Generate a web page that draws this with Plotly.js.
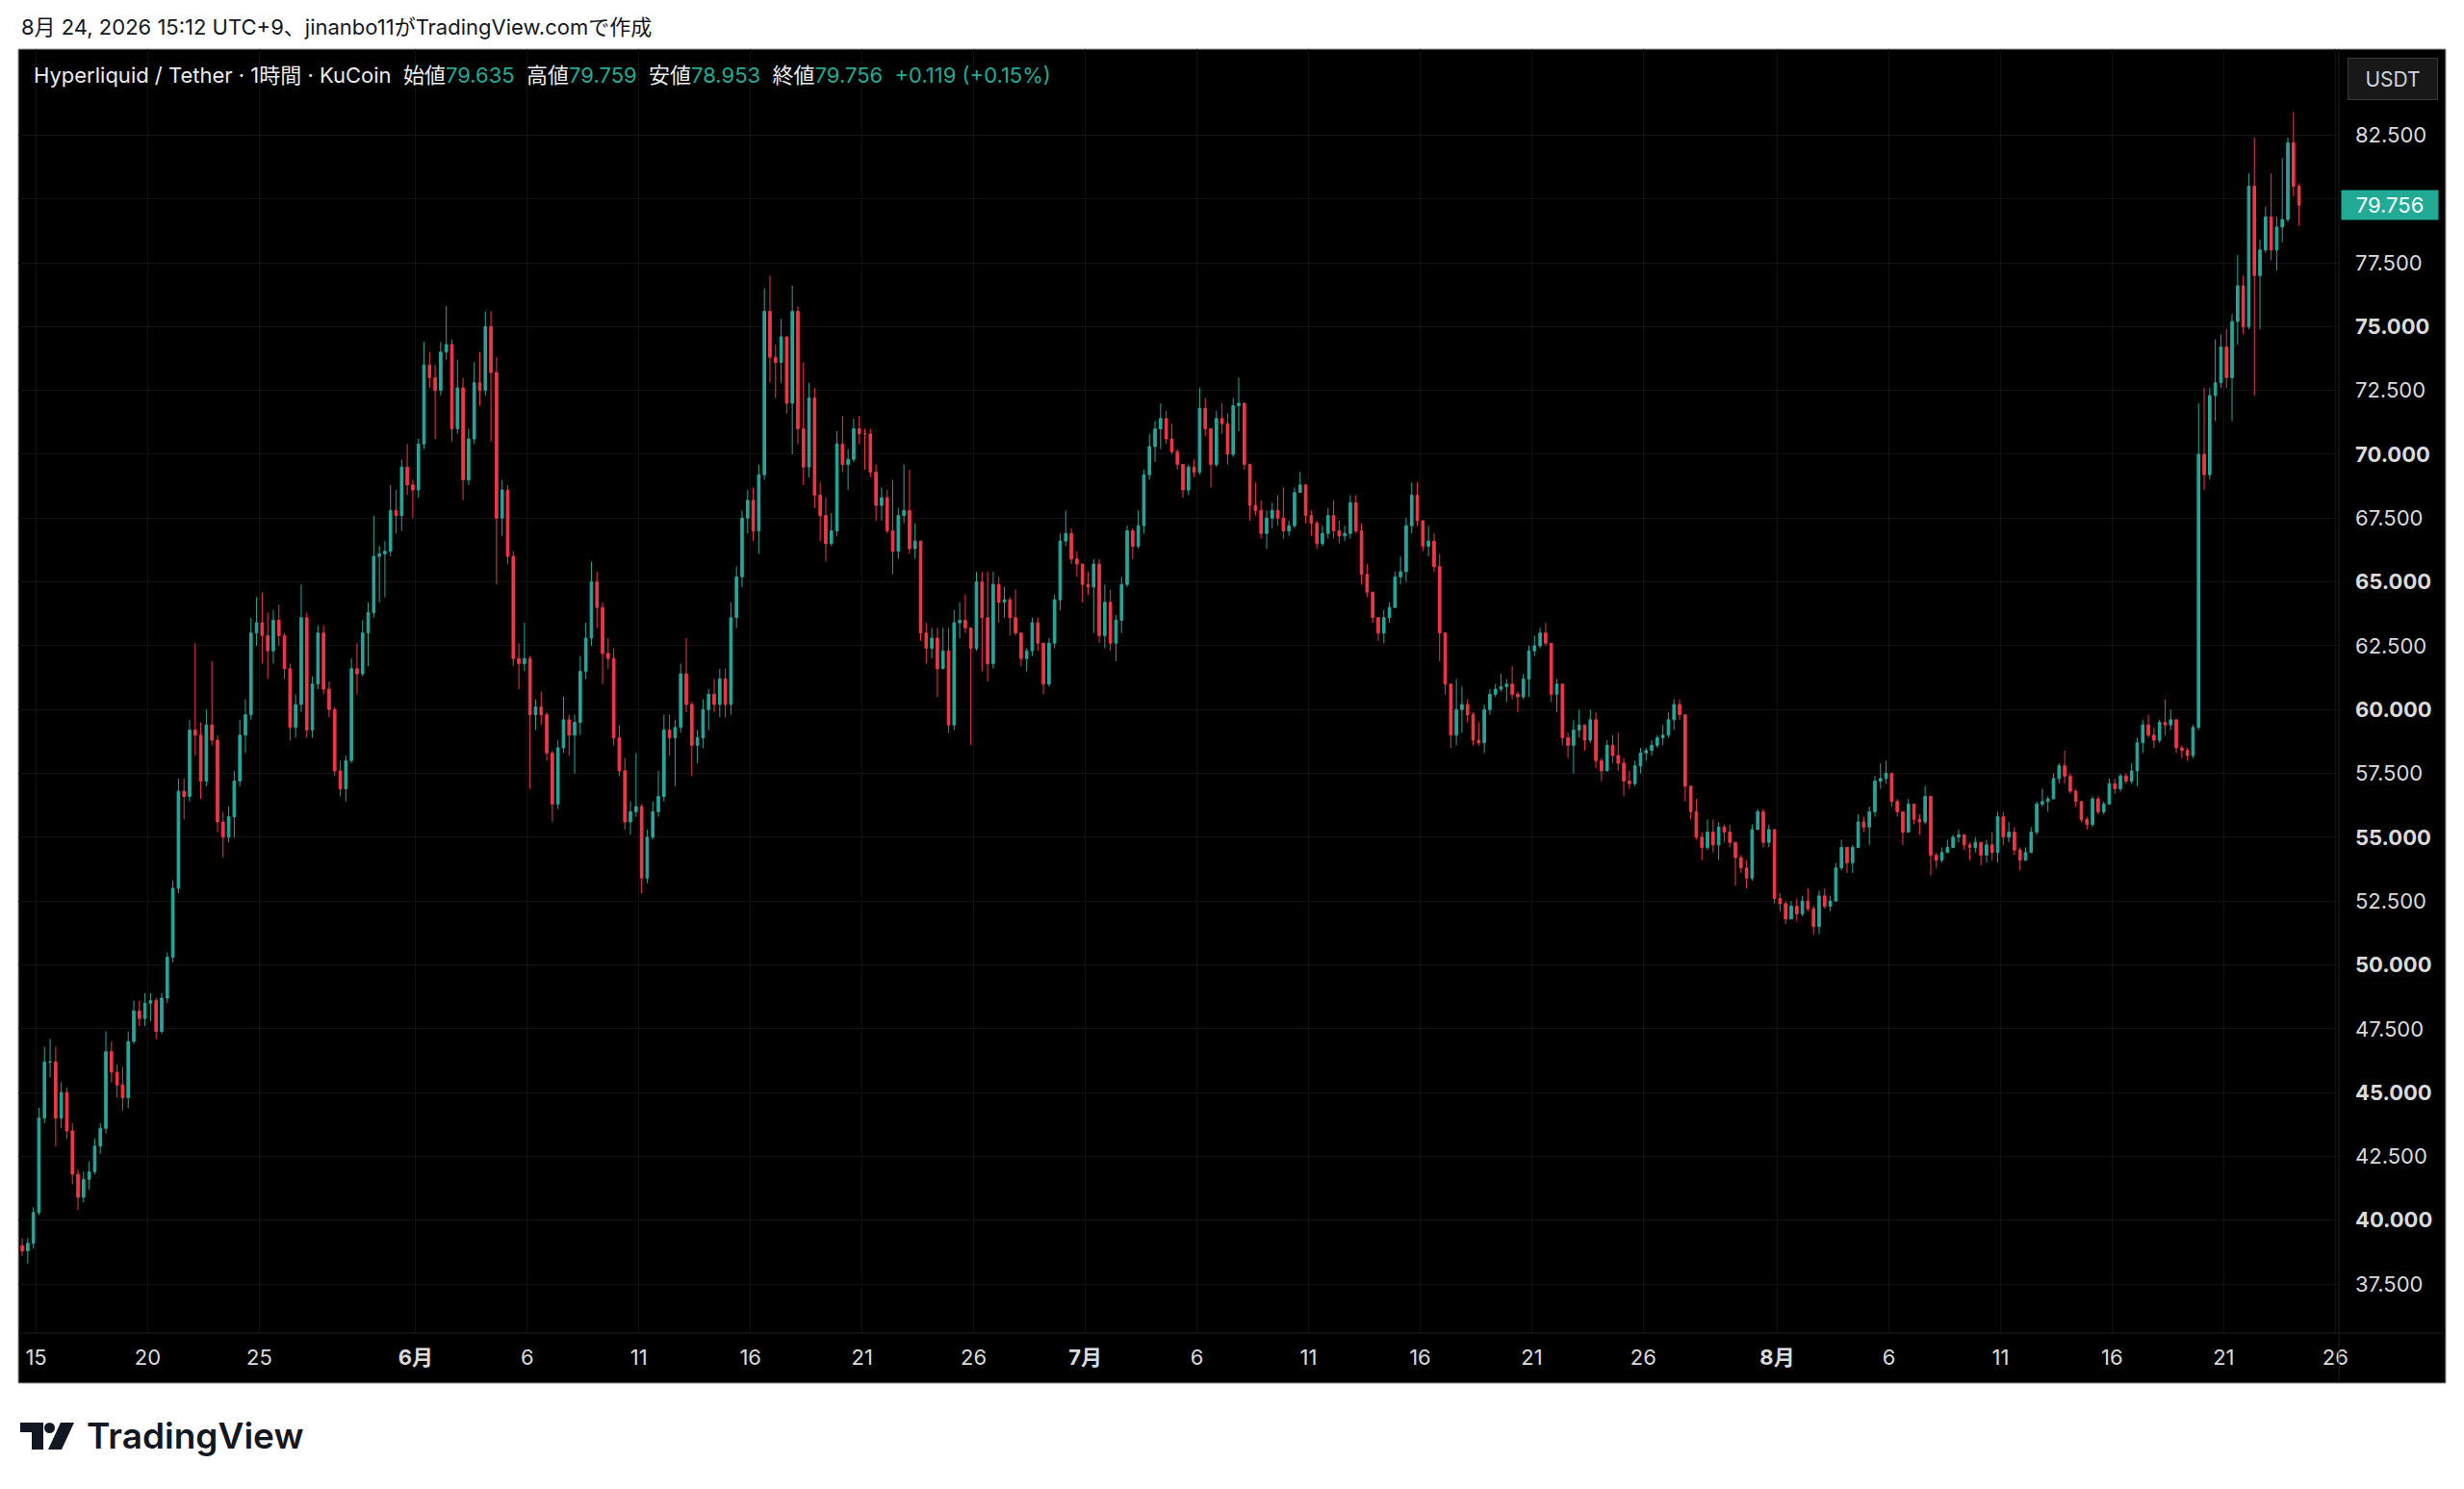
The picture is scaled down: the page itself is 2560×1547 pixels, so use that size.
<!DOCTYPE html>
<html>
<head>
<meta charset="utf-8">
<script src="https://cdn.plot.ly/plotly-3.0.1.min.js"></script>
<style>
  html, body { margin: 0; padding: 0; background: #ffffff; overflow: hidden; }
  #chart { width: 2560px; height: 1547px; }
</style>
</head>
<body>
<div id="chart"></div>
<script>
// HYPE/USDT, 6-hour candles (first bar starts 2026-05-14 06:00)
const firstBarStart = Date.UTC(2026, 4, 14, 6);
const barHours = 6;

const openP = [
  39.0, 38.8, 39.1, 40.3, 44.0, 46.2, 46.2, 44.0, 45.0, 43.5,
  41.8, 40.9, 41.6, 41.9, 42.9, 43.6, 46.6, 45.8, 45.3, 44.8,
  47.0, 48.2, 47.9, 48.5, 48.6, 47.4, 48.7, 50.3, 53.0, 56.8,
  56.6, 59.2, 59.0, 57.2, 59.4, 58.8, 55.6, 55.0, 55.8, 57.2,
  59.0, 59.8, 63.0, 63.4, 62.9, 62.3, 63.5, 62.9, 61.6, 59.3,
  60.2, 63.6, 59.2, 61.0, 63.0, 60.8, 60.0, 57.6, 56.9, 58.0,
  61.6, 61.4, 63.0, 63.8, 66.0, 66.1, 66.2, 67.8, 67.6, 69.5,
  68.8, 68.6, 70.4, 73.5, 73.0, 72.5, 74.0, 74.3, 71.0, 72.6,
  69.0, 70.6, 72.8, 72.5, 75.0, 73.2, 67.5, 68.6, 66.0, 62.0,
  61.8, 62.0, 59.8, 60.1, 59.8, 58.3, 56.3, 58.5, 59.6, 59.0,
  59.5, 61.5, 62.8, 65.0, 64.0, 62.2, 62.0, 58.9, 57.6, 55.6,
  56.0, 56.2, 53.4, 55.0, 56.0, 56.6, 59.2, 58.9, 59.3, 61.4,
  60.2, 58.6, 58.9, 60.0, 60.6, 60.2, 61.2, 60.2, 63.6, 65.2,
  67.5, 68.2, 67.0, 69.2, 75.6, 73.8, 73.6, 74.6, 72.0, 75.6,
  71.0, 69.5, 72.2, 68.4, 67.6, 66.5, 67.0, 70.4, 69.6, 69.8,
  71.0, 70.8, 70.8, 69.3, 68.0, 68.3, 67.0, 66.2, 67.6, 67.8,
  66.3, 66.6, 63.0, 62.4, 62.8, 61.6, 62.3, 59.4, 63.4, 63.5,
  63.2, 62.4, 65.0, 63.6, 61.8, 64.9, 64.2, 64.3, 63.6, 63.0,
  62.0, 62.3, 63.4, 62.6, 61.0, 62.6, 64.3, 66.6, 66.9, 65.9,
  65.7, 64.9, 64.8, 65.7, 62.9, 64.2, 62.6, 63.5, 64.9, 67.0,
  66.4, 67.2, 69.2, 70.3, 71.0, 71.4, 70.6, 70.1, 69.6, 68.6,
  69.5, 69.3, 71.8, 71.0, 69.6, 71.4, 71.2, 70.0, 71.9, 72.0,
  69.6, 68.0, 67.8, 66.9, 67.5, 67.8, 67.5, 67.0, 67.2, 68.5,
  68.8, 67.6, 67.3, 66.5, 66.9, 67.6, 67.0, 66.8, 66.9, 68.1,
  67.0, 65.3, 64.6, 63.6, 63.0, 63.6, 64.0, 65.2, 65.4, 67.2,
  68.4, 67.4, 66.4, 66.6, 65.6, 63.0, 61.0, 59.0, 60.0, 60.2,
  59.8, 58.8, 58.7, 60.0, 60.6, 60.8, 60.9, 61.0, 60.6, 60.5,
  61.2, 62.3, 62.5, 63.0, 62.6, 60.6, 61.0, 58.9, 58.6, 59.2,
  59.4, 58.8, 59.6, 58.0, 57.6, 58.6, 58.2, 57.9, 57.2, 57.1,
  57.8, 58.3, 58.4, 58.6, 58.9, 59.0, 59.6, 60.2, 59.8, 57.0,
  56.0, 55.0, 54.6, 55.2, 54.7, 55.4, 55.2, 54.8, 54.2, 53.8,
  53.4, 55.3, 56.0, 54.8, 55.3, 52.6, 52.4, 51.8, 52.3, 52.0,
  52.5, 52.2, 51.5, 52.7, 52.3, 52.5, 53.8, 54.6, 54.0, 54.6,
  55.6, 55.4, 56.0, 57.2, 57.3, 57.5, 56.4, 56.0, 55.2, 56.3,
  55.7, 55.6, 56.6, 54.3, 54.1, 54.4, 54.6, 55.0, 55.1, 54.7,
  54.6, 54.8, 54.3, 54.7, 54.4, 55.8, 55.0, 55.2, 54.5, 54.1,
  54.4, 55.2, 56.3, 56.4, 56.5, 57.3, 57.8, 57.4, 56.8, 56.4,
  55.7, 55.5, 56.5, 56.0, 56.3, 57.1, 56.9, 57.4, 57.2, 57.6,
  58.7, 59.4, 59.0, 58.8, 59.5, 59.4, 59.6, 58.5, 58.4, 58.2,
  59.3, 70.0, 69.2, 72.3, 72.8, 74.2, 73.0, 75.2, 76.6, 75.0,
  80.5, 77.0, 78.0, 79.3, 78.0, 78.9, 79.2, 82.2, 80.5
];

const highP = [
  39.3, 39.3, 40.5, 44.4, 46.8, 47.1, 46.8, 45.4, 45.2, 43.8,
  42.0, 41.9, 42.3, 43.2, 43.8, 47.4, 47.0, 46.1, 46.0, 47.4,
  48.6, 48.6, 48.9, 48.9, 48.7, 48.9, 50.5, 53.3, 57.3, 57.3,
  59.6, 62.6, 59.5, 60.0, 61.9, 59.0, 56.0, 56.2, 57.6, 59.6,
  60.4, 63.6, 64.4, 64.6, 63.8, 63.9, 64.1, 63.0, 61.8, 60.6,
  64.9, 63.8, 61.3, 63.3, 63.3, 61.1, 60.1, 58.0, 58.2, 62.0,
  62.6, 63.5, 64.2, 67.6, 66.4, 66.6, 68.8, 68.6, 69.8, 70.4,
  69.0, 70.6, 74.4, 74.0, 73.5, 74.4, 75.8, 74.5, 73.7, 73.0,
  71.0, 73.6, 74.0, 75.6, 75.6, 73.8, 69.0, 68.8, 66.2, 62.6,
  63.4, 62.1, 60.4, 60.7, 59.9, 58.4, 58.8, 60.5, 59.8, 59.8,
  62.1, 63.4, 65.8, 65.4, 64.2, 62.8, 62.4, 59.4, 58.1, 56.4,
  58.3, 56.3, 55.3, 56.4, 57.6, 59.8, 59.8, 59.6, 61.8, 62.8,
  60.3, 59.2, 60.4, 60.8, 61.2, 61.6, 61.6, 64.2, 65.6, 67.8,
  68.6, 68.7, 69.6, 76.5, 77.0, 74.3, 75.3, 74.6, 76.6, 75.8,
  73.6, 72.8, 72.6, 68.9, 68.3, 67.7, 70.9, 71.5, 70.2, 71.4,
  71.5, 71.0, 71.0, 69.6, 68.7, 68.6, 69.0, 67.9, 69.6, 69.4,
  67.3, 66.6, 63.4, 63.2, 63.2, 63.2, 63.2, 63.9, 64.2, 64.5,
  63.2, 65.4, 65.4, 65.4, 65.4, 65.2, 64.8, 64.4, 64.7, 63.0,
  62.4, 63.6, 63.6, 62.6, 62.8, 64.5, 66.9, 67.8, 67.1, 66.2,
  65.7, 65.4, 65.9, 65.9, 64.9, 64.7, 63.7, 65.2, 67.2, 67.1,
  67.8, 69.4, 70.8, 71.3, 72.0, 71.7, 71.2, 70.2, 69.6, 69.6,
  69.8, 72.6, 72.2, 71.0, 71.7, 72.0, 71.6, 72.2, 73.0, 72.0,
  69.6, 68.9, 68.2, 67.8, 68.1, 68.4, 68.7, 67.4, 68.7, 69.3,
  68.8, 67.8, 67.4, 67.2, 67.9, 68.2, 67.4, 67.2, 68.4, 68.4,
  67.3, 65.7, 64.6, 63.6, 63.9, 64.2, 65.4, 66.0, 67.5, 68.9,
  68.9, 67.4, 67.2, 66.9, 66.1, 63.0, 61.0, 61.2, 60.9, 60.4,
  59.9, 59.5, 60.2, 60.8, 61.0, 61.4, 61.2, 61.7, 60.7, 61.4,
  62.5, 62.9, 63.2, 63.4, 62.6, 61.2, 61.0, 59.1, 59.6, 60.0,
  59.4, 60.0, 59.9, 58.1, 58.8, 59.0, 59.1, 58.1, 57.6, 58.0,
  58.5, 58.5, 58.8, 59.0, 59.4, 59.9, 60.4, 60.4, 59.8, 57.0,
  56.5, 55.2, 55.7, 55.7, 55.6, 55.5, 55.5, 54.8, 54.3, 54.1,
  55.5, 56.1, 56.1, 55.5, 55.3, 52.8, 52.5, 52.5, 52.6, 52.7,
  53.0, 52.3, 52.9, 53.0, 52.7, 54.0, 54.9, 54.6, 54.7, 55.9,
  55.8, 56.2, 57.4, 57.9, 58.0, 57.5, 56.5, 56.0, 56.5, 56.3,
  55.9, 57.0, 56.6, 54.4, 54.6, 54.9, 55.1, 55.3, 55.1, 54.8,
  55.0, 54.8, 54.9, 55.2, 56.0, 56.0, 55.6, 55.4, 54.6, 54.6,
  55.4, 56.4, 56.9, 56.6, 57.5, 57.9, 58.4, 57.5, 56.9, 56.4,
  55.8, 56.6, 56.6, 56.4, 57.3, 57.3, 57.5, 57.5, 57.9, 58.9,
  59.6, 59.8, 59.3, 59.6, 60.4, 60.0, 59.6, 58.6, 58.5, 59.4,
  72.0, 72.6, 72.6, 74.5, 74.7, 74.9, 75.5, 77.8, 77.0, 81.0,
  82.4, 78.4, 79.7, 81.0, 79.3, 81.6, 82.4, 83.4, 80.6
];

const lowP = [
  38.6, 38.3, 38.9, 40.2, 43.8, 45.6, 42.9, 43.6, 43.2, 41.4,
  40.4, 40.7, 41.2, 41.8, 42.6, 43.4, 45.4, 44.8, 44.3, 44.4,
  46.9, 47.6, 47.6, 47.8, 47.1, 47.3, 48.5, 50.1, 52.8, 55.7,
  56.4, 58.2, 56.5, 57.0, 58.6, 55.2, 54.2, 54.8, 55.0, 57.0,
  58.3, 59.6, 62.5, 61.8, 61.2, 61.8, 62.5, 61.2, 58.8, 58.9,
  59.9, 58.9, 58.9, 60.8, 60.6, 59.7, 57.4, 56.6, 56.4, 57.9,
  60.6, 61.3, 61.7, 63.6, 64.2, 64.4, 66.0, 66.9, 67.0, 68.4,
  67.5, 68.3, 70.2, 72.6, 70.6, 72.3, 73.7, 70.5, 70.8, 68.2,
  68.8, 70.4, 71.9, 72.3, 70.5, 64.9, 66.8, 65.7, 61.7, 60.8,
  61.5, 56.9, 59.2, 59.4, 58.0, 55.6, 56.1, 58.3, 58.2, 57.5,
  59.0, 61.2, 62.5, 63.2, 61.0, 61.6, 58.6, 57.4, 55.3, 55.1,
  55.8, 52.8, 53.2, 54.9, 55.8, 56.4, 58.2, 57.0, 59.1, 59.9,
  57.4, 57.9, 58.5, 59.2, 59.9, 59.7, 59.7, 59.8, 63.2, 64.8,
  66.9, 66.6, 66.1, 69.0, 72.8, 72.2, 72.8, 71.6, 70.0, 70.4,
  68.8, 69.1, 67.9, 66.6, 65.8, 66.4, 66.8, 69.3, 68.6, 69.7,
  70.4, 69.4, 69.1, 67.4, 67.4, 66.9, 65.3, 65.9, 67.3, 66.1,
  65.9, 62.7, 61.8, 62.0, 60.5, 61.6, 59.1, 59.2, 62.8, 63.0,
  58.6, 62.3, 61.5, 61.1, 61.6, 63.4, 63.6, 62.9, 62.9, 61.7,
  61.5, 62.1, 62.3, 60.6, 60.9, 62.4, 63.9, 66.4, 65.7, 65.2,
  64.2, 64.5, 63.0, 62.6, 62.4, 62.3, 61.9, 63.0, 64.8, 65.9,
  66.3, 66.9, 69.0, 69.7, 70.2, 70.4, 70.0, 69.4, 68.3, 68.4,
  69.1, 69.2, 70.7, 68.7, 69.5, 70.8, 69.6, 69.9, 70.9, 69.4,
  67.4, 67.6, 66.7, 66.3, 67.1, 67.2, 66.7, 66.8, 67.1, 68.5,
  67.3, 66.8, 66.3, 66.4, 66.7, 66.7, 66.5, 66.6, 66.7, 66.9,
  64.9, 64.4, 63.4, 62.7, 62.6, 63.4, 64.0, 64.9, 65.0, 66.9,
  67.2, 66.2, 66.0, 65.4, 61.9, 60.6, 58.5, 58.6, 59.1, 59.5,
  58.6, 58.6, 58.3, 59.8, 60.5, 60.7, 60.3, 60.4, 59.9, 60.4,
  60.5, 62.1, 62.4, 62.5, 60.3, 59.9, 58.6, 58.1, 57.5, 58.9,
  58.4, 58.7, 57.7, 57.2, 57.6, 57.9, 57.6, 56.6, 56.9, 57.0,
  57.5, 58.0, 58.2, 58.5, 58.6, 58.9, 59.2, 59.6, 56.4, 55.7,
  54.9, 54.1, 54.5, 54.4, 54.1, 54.8, 54.6, 53.1, 53.6, 53.0,
  53.3, 55.3, 54.6, 54.6, 52.4, 52.1, 51.6, 51.8, 51.7, 51.9,
  52.1, 51.2, 51.2, 52.2, 52.1, 52.5, 53.7, 53.6, 53.6, 54.6,
  55.2, 54.7, 55.8, 56.9, 57.1, 56.2, 55.8, 54.7, 55.2, 55.5,
  55.1, 55.5, 53.5, 53.8, 54.0, 54.4, 54.6, 54.8, 54.5, 54.1,
  54.4, 53.9, 54.0, 54.1, 54.0, 54.7, 54.8, 54.3, 53.7, 54.1,
  54.4, 55.1, 56.2, 56.0, 56.5, 57.1, 57.1, 56.7, 56.2, 55.6,
  55.3, 55.4, 55.9, 55.9, 56.3, 56.7, 56.8, 57.1, 57.1, 57.0,
  58.3, 58.9, 58.5, 58.7, 59.0, 59.2, 58.3, 58.1, 58.0, 58.1,
  59.2, 68.6, 69.0, 71.3, 72.6, 72.6, 71.3, 74.3, 74.7, 74.9,
  72.3, 74.9, 77.9, 77.6, 77.2, 78.3, 79.1, 80.1, 78.953
];

const closeP = [
  38.8, 39.1, 40.3, 44.0, 46.2, 46.2, 44.0, 45.0, 43.5, 41.8,
  40.9, 41.6, 41.9, 42.9, 43.6, 46.6, 45.8, 45.3, 44.8, 47.0,
  48.2, 47.9, 48.5, 48.6, 47.4, 48.7, 50.3, 53.0, 56.8, 56.6,
  59.2, 59.0, 57.2, 59.4, 58.8, 55.6, 55.0, 55.8, 57.2, 59.0,
  59.8, 63.0, 63.4, 62.9, 62.3, 63.5, 62.9, 61.6, 59.3, 60.2,
  63.6, 59.2, 61.0, 63.0, 60.8, 60.0, 57.6, 56.9, 58.0, 61.6,
  61.4, 63.0, 63.8, 66.0, 66.1, 66.2, 67.8, 67.6, 69.5, 68.8,
  68.6, 70.4, 73.5, 73.0, 72.5, 74.0, 74.3, 71.0, 72.6, 69.0,
  70.6, 72.8, 72.5, 75.0, 73.2, 67.5, 68.6, 66.0, 62.0, 61.8,
  62.0, 59.8, 60.1, 59.8, 58.3, 56.3, 58.5, 59.6, 59.0, 59.5,
  61.5, 62.8, 65.0, 64.0, 62.2, 62.0, 58.9, 57.6, 55.6, 56.0,
  56.2, 53.4, 55.0, 56.0, 56.6, 59.2, 58.9, 59.3, 61.4, 60.2,
  58.6, 58.9, 60.0, 60.6, 60.2, 61.2, 60.2, 63.6, 65.2, 67.5,
  68.2, 67.0, 69.2, 75.6, 73.8, 73.6, 74.6, 72.0, 75.6, 71.0,
  69.5, 72.2, 68.4, 67.6, 66.5, 67.0, 70.4, 69.6, 69.8, 71.0,
  70.8, 70.8, 69.3, 68.0, 68.3, 67.0, 66.2, 67.6, 67.8, 66.3,
  66.6, 63.0, 62.4, 62.8, 61.6, 62.3, 59.4, 63.4, 63.5, 63.2,
  62.4, 65.0, 63.6, 61.8, 64.9, 64.2, 64.3, 63.6, 63.0, 62.0,
  62.3, 63.4, 62.6, 61.0, 62.6, 64.3, 66.6, 66.9, 65.9, 65.7,
  64.9, 64.8, 65.7, 62.9, 64.2, 62.6, 63.5, 64.9, 67.0, 66.4,
  67.2, 69.2, 70.3, 71.0, 71.4, 70.6, 70.1, 69.6, 68.6, 69.5,
  69.3, 71.8, 71.0, 69.6, 71.4, 71.2, 70.0, 71.9, 72.0, 69.6,
  68.0, 67.8, 66.9, 67.5, 67.8, 67.5, 67.0, 67.2, 68.5, 68.8,
  67.6, 67.3, 66.5, 66.9, 67.6, 67.0, 66.8, 66.9, 68.1, 67.0,
  65.3, 64.6, 63.6, 63.0, 63.6, 64.0, 65.2, 65.4, 67.2, 68.4,
  67.4, 66.4, 66.6, 65.6, 63.0, 61.0, 59.0, 60.0, 60.2, 59.8,
  58.8, 58.7, 60.0, 60.6, 60.8, 60.9, 61.0, 60.6, 60.5, 61.2,
  62.3, 62.5, 63.0, 62.6, 60.6, 61.0, 58.9, 58.6, 59.2, 59.4,
  58.8, 59.6, 58.0, 57.6, 58.6, 58.2, 57.9, 57.2, 57.1, 57.8,
  58.3, 58.4, 58.6, 58.9, 59.0, 59.6, 60.2, 59.8, 57.0, 56.0,
  55.0, 54.6, 55.2, 54.7, 55.4, 55.2, 54.8, 54.2, 53.8, 53.4,
  55.3, 56.0, 54.8, 55.3, 52.6, 52.4, 51.8, 52.3, 52.0, 52.5,
  52.2, 51.5, 52.7, 52.3, 52.5, 53.8, 54.6, 54.0, 54.6, 55.6,
  55.4, 56.0, 57.2, 57.3, 57.5, 56.4, 56.0, 55.2, 56.3, 55.7,
  55.6, 56.6, 54.3, 54.1, 54.4, 54.6, 55.0, 55.1, 54.7, 54.6,
  54.8, 54.3, 54.7, 54.4, 55.8, 55.0, 55.2, 54.5, 54.1, 54.4,
  55.2, 56.3, 56.4, 56.5, 57.3, 57.8, 57.4, 56.8, 56.4, 55.7,
  55.5, 56.5, 56.0, 56.3, 57.1, 56.9, 57.4, 57.2, 57.6, 58.7,
  59.4, 59.0, 58.8, 59.5, 59.4, 59.6, 58.5, 58.4, 58.2, 59.3,
  70.0, 69.2, 72.3, 72.8, 74.2, 73.0, 75.2, 76.6, 75.0, 80.5,
  77.0, 78.0, 79.3, 78.0, 78.9, 79.2, 82.2, 80.5, 79.756
];

const lastPrice = 79.756;

const priceTicks = [37.5, 40, 42.5, 45, 47.5, 50, 52.5, 55, 57.5, 60, 62.5, 65, 67.5, 70, 72.5, 75, 77.5, 80, 82.5];
const priceTickText = ['37.500', '<b>40.000</b>', '42.500', '<b>45.000</b>', '47.500', '<b>50.000</b>',
  '52.500', '<b>55.000</b>', '57.500', '<b>60.000</b>', '62.500', '<b>65.000</b>', '67.500',
  '<b>70.000</b>', '72.500', '<b>75.000</b>', '77.500', '', '82.500'];

const dateTicks = ['2026-05-15', '2026-05-20', '2026-05-25', '2026-06-01', '2026-06-06', '2026-06-11',
  '2026-06-16', '2026-06-21', '2026-06-26', '2026-07-01', '2026-07-06', '2026-07-11', '2026-07-16',
  '2026-07-21', '2026-07-26', '2026-08-01', '2026-08-06', '2026-08-11', '2026-08-16', '2026-08-21', '2026-08-26'];
const dateTickText = ['15', '20', '25', '<b>6月</b>', '6', '11', '16', '21', '26', '<b>7月</b>', '6', '11',
  '16', '21', '26', '<b>8月</b>', '6', '11', '16', '21', '26'];

const UP = '#26a69a';
const DOWN = '#f23645';
const FONT = 'Inter, Roboto, "Noto Sans CJK JP", sans-serif';

// bar centres
let times = [];
for (let i = 0; i < closeP.length; i++) {
  let t = new Date(firstBarStart + (i + 0.5) * barHours * 3600e3);
  times.push(t.toISOString().slice(0, 16).replace('T', ' '));
}

// page pixel -> paper coords (plot area is x 19..2430, y 51..1385)
const L = 19, R = 2430, T = 51, B = 1385;
function fx(px) { return (px - L) / (R - L); }
function fy(py) { return (B - py) / (B - T); }

let traces = [{
  type: 'candlestick',
  x: times,
  open: openP,
  high: highP,
  low: lowP,
  close: closeP,
  increasing: { line: { color: UP, width: 1 }, fillcolor: UP },
  decreasing: { line: { color: DOWN, width: 1 }, fillcolor: DOWN },
  whiskerwidth: 0,
  hoverinfo: 'skip',
  showlegend: false
}];

let teal = '#22ab94';
let legendText = 'Hyperliquid / Tether · 1時間 · KuCoin\u00a0\u00a0始値<span style="color:' + teal + '">79.635</span>' +
  '\u00a0\u00a0高値<span style="color:' + teal + '">79.759</span>' +
  '\u00a0\u00a0安値<span style="color:' + teal + '">78.953</span>' +
  '\u00a0\u00a0終値<span style="color:' + teal + '">79.756</span>' +
  '\u00a0\u00a0<span style="color:' + teal + '">+0.119 (+0.15%)</span>';

let layout = {
  width: 2560,
  height: 1547,
  autosize: false,
  margin: { l: L, r: 2560 - R, t: T, b: 1547 - B, pad: 0 },
  paper_bgcolor: '#ffffff',
  plot_bgcolor: '#000000',
  font: { family: FONT, color: '#dbdbdb', size: 22 },
  boxgap: 0.35,
  xaxis: {
    type: 'date',
    range: ['2026-05-14 04:48', '2026-08-26 03:50'],
    rangeslider: { visible: false },
    tickmode: 'array',
    tickvals: dateTicks,
    ticktext: dateTickText,
    ticks: '',
    ticklabelstandoff: 10,
    tickfont: { size: 22, color: '#dbdbdb', family: FONT },
    showgrid: true,
    gridcolor: '#111111',
    gridwidth: 1,
    zeroline: false,
    showline: false,
    fixedrange: true
  },
  yaxis: {
    side: 'right',
    range: [35.58, 85.87],
    tickmode: 'array',
    tickvals: priceTicks,
    ticktext: priceTickText,
    ticks: '',
    ticklabelstandoff: 16,
    tickfont: { size: 22, color: '#dbdbdb', family: FONT },
    showgrid: true,
    gridcolor: '#111111',
    gridwidth: 1,
    zeroline: false,
    showline: false,
    fixedrange: true
  },
  shapes: [
    // black chart panel incl. both scales
    { type: 'rect', xref: 'paper', yref: 'paper', layer: 'below',
      x0: fx(19), x1: fx(2541), y0: fy(1437), y1: fy(51),
      fillcolor: '#000000', line: { color: '#9a9a9a', width: 1 } },
    // scale separators
    { type: 'line', xref: 'paper', yref: 'paper', x0: fx(2430), x1: fx(2430), y0: fy(1437), y1: fy(51),
      line: { color: '#1e1e1e', width: 1 } },
    { type: 'line', xref: 'paper', yref: 'paper', x0: fx(19), x1: fx(2541), y0: fy(1385), y1: fy(1385),
      line: { color: '#1e1e1e', width: 1 } },
    // TradingView logo mark
    { type: 'path', xref: 'paper', yref: 'paper', fillcolor: '#131722', line: { width: 0 },
      path: 'M ' + fx(21) + ' ' + fy(1478) + ' L ' + fx(45) + ' ' + fy(1478) + ' L ' + fx(45) + ' ' + fy(1506) +
        ' L ' + fx(33) + ' ' + fy(1506) + ' L ' + fx(33) + ' ' + fy(1488) + ' L ' + fx(21) + ' ' + fy(1488) + ' Z' },
    { type: 'circle', xref: 'paper', yref: 'paper', fillcolor: '#131722', line: { width: 0 },
      x0: fx(46), x1: fx(57), y0: fy(1489), y1: fy(1478) },
    { type: 'path', xref: 'paper', yref: 'paper', fillcolor: '#131722', line: { width: 0 },
      path: 'M ' + fx(63) + ' ' + fy(1478) + ' L ' + fx(77) + ' ' + fy(1478) + ' L ' + fx(64) + ' ' + fy(1506) +
        ' L ' + fx(50) + ' ' + fy(1506) + ' Z' }
  ],
  annotations: [
    { xref: 'paper', yref: 'paper', x: fx(20), y: fy(28), xanchor: 'left', yanchor: 'middle', showarrow: false,
      text: '8月 24, 2026 15:12 UTC+9、jinanbo11がTradingView.comで作成',
      font: { family: FONT, size: 22, color: '#131722' } },
    { xref: 'paper', yref: 'paper', x: fx(33), y: fy(78), xanchor: 'left', yanchor: 'middle', showarrow: false,
      text: legendText, font: { family: FONT, size: 22, color: '#ececec' } },
    { xref: 'paper', yref: 'paper', x: fx(2486), y: fy(82), xanchor: 'center', yanchor: 'middle', showarrow: false,
      text: 'USDT', font: { family: FONT, size: 21, color: '#d1d4dc' },
      bgcolor: '#181818', bordercolor: '#3a3a3a', borderwidth: 1, borderpad: 0, width: 92, height: 42 },
    { xref: 'paper', yref: 'y', x: fx(2483), y: lastPrice, xanchor: 'center', yanchor: 'middle', showarrow: false,
      text: lastPrice.toFixed(3), font: { family: FONT, size: 22, color: '#ffffff' },
      bgcolor: teal, borderpad: 0, width: 100, height: 30 },
    { xref: 'paper', yref: 'paper', x: fx(88), y: fy(1492), xanchor: 'left', yanchor: 'middle', showarrow: false,
      text: 'TradingView', font: { family: FONT, size: 37, color: '#131722', weight: 600 } }
  ]
};

Plotly.newPlot('chart', traces, layout, { displayModeBar: false, staticPlot: true });
</script>
</body>
</html>
